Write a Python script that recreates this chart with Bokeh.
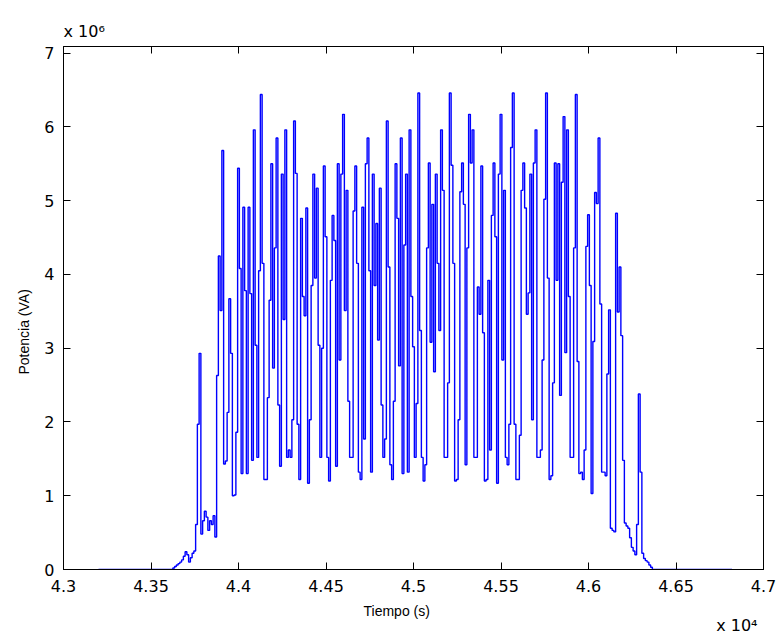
import numpy as np
from bokeh.plotting import figure
from bokeh.models import Range1d, FixedTicker, LinearAxis, Title
from bokeh.embed import file_html
from bokeh.resources import INLINE

# ---- data (power in units of 1e6 VA, one sample every 10 s) ----
ceros_inicio = [0.0] * 43
subida = [0.02, 0.04, 0.06, 0.08, 0.1, 0.13, 0.18, 0.24, 0.2, 0.1, 0.16, 0.22, 0.25,
          0.61, 1.97, 2.93, 0.48, 0.66, 0.79, 0.71, 0.53, 0.66, 0.61, 0.73]
bloque_1 = [0.44, 2.63, 4.25, 3.51, 5.68, 1.43, 1.47, 2.13, 3.67, 2.93, 1.0, 1.01,
            1.86, 5.44, 4.08, 1.3, 4.91, 3.78, 1.3, 4.91, 3.74, 1.48, 5.96]
bloque_2 = [3.04, 1.52, 4.05, 6.44, 4.15, 1.22, 1.22, 2.33, 3.65, 5.5,
            2.73, 4.36, 5.85, 2.23, 1.4, 5.36, 3.39, 5.96, 1.52, 1.62,
            1.52, 2.03, 6.08, 5.37, 1.97, 1.22, 4.76, 3.7, 3.44, 4.9,
            1.17, 2.03, 3.85, 5.36, 3.95, 5.17, 3.04, 1.52, 3.0, 5.47,
            4.51, 1.52, 1.2, 3.92, 4.8, 4.46]
bloque_3 = [1.4, 5.5, 2.84, 5.36, 6.17, 3.51, 5.14, 2.28, 1.52, 1.52,
            4.86, 5.47, 4.15, 1.32, 1.22, 4.91, 1.77, 5.5, 5.85, 4.05,
            1.32, 5.36, 3.85, 4.69, 3.11, 5.17, 2.23, 1.52, 1.77, 6.08,
            4.1, 1.42, 1.22, 2.28, 5.5, 4.76, 2.76, 5.85, 1.3, 4.4,
            5.36, 1.32, 5.96, 3.7, 3.02, 1.52]
bloque_4 = [2.25, 6.46, 3.24, 1.52, 1.2, 1.42, 4.36, 5.51, 3.08, 4.95,
            2.68, 5.36, 4.15, 3.24, 5.96, 5.14, 1.52, 1.52, 2.53, 6.46,
            5.48, 4.15, 1.2, 1.22, 2.03, 5.12, 5.51, 4.95, 1.42, 4.36,
            6.17, 5.51, 5.96, 1.52, 1.52, 3.83, 3.46, 5.47, 3.21, 1.2,
            1.22, 3.92, 1.62, 4.8, 5.51]
bloque_5 = [4.51, 1.17, 5.36, 6.17, 2.84, 5.14, 1.52, 1.42, 1.97, 5.72,
            6.46, 1.97, 1.22, 1.22, 1.82, 5.14, 5.51, 4.9, 3.46, 3.75,
            5.36, 2.03, 5.51, 5.96, 1.52, 1.52, 1.62, 2.84, 5.02, 6.46,
            3.95, 1.22, 1.27, 2.53, 5.51, 3.92, 5.5, 2.36, 5.25, 6.14,
            2.94, 5.96, 3.7, 1.52, 1.52, 4.36]
bajada = [6.44, 2.82, 1.3, 1.32, 1.22, 1.62, 4.38, 4.81, 3.85, 1.03,
          3.09, 5.11, 4.96, 5.85, 3.6, 1.32, 1.32, 1.27, 2.65, 3.52,
          0.56, 0.53, 0.51, 4.83, 3.49, 4.1, 3.17, 1.48, 0.63, 0.59,
          0.56, 0.43, 0.3, 0.25, 0.2, 0.61, 2.38, 1.32, 0.22, 0.15,
          0.12, 0.1, 0.06, 0.03, 0.0]
ceros_final = [0.0] * 45

potencia_mva = ceros_inicio + subida + bloque_1 + bloque_2 + bloque_3 + bloque_4 + bloque_5 + bajada + ceros_final
tiempo_s = list(range(43200, 43200 + 10 * len(potencia_mva), 10))
potencia_va = [v * 1e6 for v in potencia_mva]

x_ticks = [43000, 43500, 44000, 44500, 45000, 45500, 46000, 46500, 47000]
x_tick_labels = ["4.3", "4.35", "4.4", "4.45", "4.5", "4.55", "4.6", "4.65", "4.7"]
y_ticks = [0, 1e6, 2e6, 3e6, 4e6, 5e6, 6e6, 7e6]
y_tick_labels = ["0", "1", "2", "3", "4", "5", "6", "7"]

FONT = "DejaVu Sans"
LABEL_FONT = "Liberation Sans"

p = figure(frame_width=700, frame_height=523, output_backend="svg", toolbar_location=None,
           x_range=Range1d(43000, 47000), y_range=Range1d(0, 7.09e6),
           min_border_left=63, min_border_right=16, min_border_top=46, min_border_bottom=66,
           background_fill_color="white", border_fill_color="white", title=None)
p.grid.visible = False
p.outline_line_color = "black"
p.outline_line_width = 1

p.step(tiempo_s, potencia_va, mode="center", line_color="#0000ff", line_width=1.4)

def style_axis(ax, ticks, labels, show_labels=True):
    ax.ticker = FixedTicker(ticks=ticks)
    ax.major_label_overrides = {t: l for t, l in zip(ticks, labels)}
    ax.minor_tick_line_color = None
    ax.major_tick_in = 7
    ax.major_tick_out = 0
    ax.axis_line_color = "black"
    ax.major_tick_line_color = "black"
    ax.major_label_text_font = FONT
    ax.major_label_text_color = "black"
    if show_labels:
        ax.major_label_text_font_size = "16px"
    else:
        ax.major_label_text_font_size = "0px"
        ax.major_label_standoff = 0

xa = p.xaxis[0]
style_axis(xa, x_ticks, x_tick_labels)
xa.major_label_standoff = 10

ya = p.yaxis[0]
style_axis(ya, y_ticks, y_tick_labels)
ya.major_label_standoff = 9

top = LinearAxis()
style_axis(top, x_ticks, x_tick_labels, show_labels=False)
p.add_layout(top, "above")
right = LinearAxis()
style_axis(right, y_ticks, y_tick_labels, show_labels=False)
p.add_layout(right, "right")

def make_title(text, align, offset, size, standoff=0, font=FONT, valign="bottom"):
    return Title(text=text, align=align, offset=offset, text_font=font,
                 text_font_size=size, text_font_style="normal", text_color="black",
                 standoff=standoff, vertical_align=valign)

# axis titles and exponent notes
p.add_layout(make_title("Tiempo (s)", "left", 300, "14px", 12, LABEL_FONT), "below")
p.add_layout(make_title("x 10\u2074", "right", 6, "16px", -19, FONT, "middle"), "below")
p.add_layout(make_title("Potencia (VA)", "left", 195, "14px", 20, LABEL_FONT), "left")
p.add_layout(make_title("x 10\u2076", "left", 0, "16px", 12), "above")

open("out.html", "w").write(file_html(p, INLINE))
